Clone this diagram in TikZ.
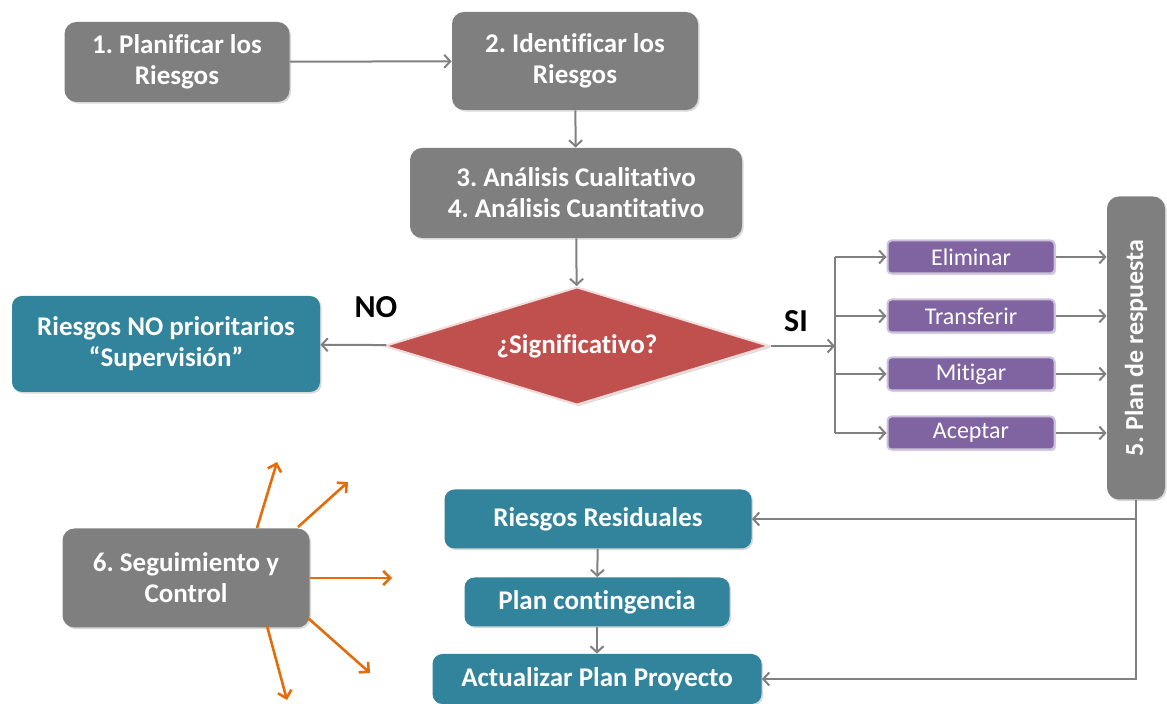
\documentclass[tikz,border=0pt]{standalone}
\usepackage{fontspec}
\setmainfont[Ligatures=NoCommon]{Carlito}
\usepackage{tikz}
\usetikzlibrary{arrows.meta,shapes.geometric,shadows}
\frenchspacing
\definecolor{boxgrey}{RGB}{127,127,127}
\definecolor{lineGrey}{RGB}{128,128,128}
\definecolor{tealbox}{RGB}{49,132,155}
\definecolor{redbox}{RGB}{192,80,77}
\definecolor{purplebox}{RGB}{128,100,162}
\definecolor{purpleedge}{RGB}{204,193,218}
\definecolor{orangearr}{RGB}{228,108,10}
\tikzset{
  base/.style={font=\bfseries\fontsize{13.5}{15.5}\selectfont, align=center, text=white, inner sep=2pt},
  shade/.style={drop shadow={shadow xshift=0.8pt, shadow yshift=-0.8pt, opacity=0.3}},
  greybox/.style={base, rectangle, rounded corners=6pt, fill=boxgrey, shade},
  tealnode/.style={base, rectangle, rounded corners=5pt, fill=tealbox, shade},
  option/.style={base, rectangle, rounded corners=2pt, fill=purplebox, draw=purpleedge, line width=1pt,
    font=\fontsize{12}{14}\selectfont, minimum width=83.5pt, minimum height=16.5pt, shade},
  dec/.style={base, diamond, aspect=3.3, inner sep=0pt, fill=redbox, draw=white!80!redbox, line width=1pt,
    minimum width=192.5pt, minimum height=59pt, shade},
  arr/.style={-{Straight Barb[length=3pt,width=6.5pt]}, line width=1pt, draw=lineGrey},
  line/.style={line width=1pt, draw=lineGrey},
  orarr/.style={-{Straight Barb[length=3.5pt,width=7pt]}, line width=1.3pt, draw=orangearr},
  lbl/.style={font=\bfseries\fontsize{16}{18}\selectfont, text=black},
}
\begin{document}
\begin{tikzpicture}[x=0.5pt,y=-0.5pt]
  \useasboundingbox (0,0) rectangle (1167,704);
  % main column
  \node[greybox, minimum width=112.5pt, minimum height=40pt] (plan1) at (177,62) {1. Planificar los\\Riesgos};
  \node[greybox, minimum width=123pt, minimum height=49pt] (ident) at (575,61) {2. Identificar los\\Riesgos};
  \node[greybox, minimum width=166pt, minimum height=45pt] (analisis) at (576,193) {3. Análisis Cualitativo\\4. Análisis Cuantitativo};
  \node[dec] (signif) at (577,346) {¿Significativo?};
  \node[tealnode, minimum width=154pt, minimum height=48pt] (noprio) at (166,344) {Riesgos NO prioritarios\\“Supervisión”};
  \node[lbl] (no) at (376,307) {NO};
  \node[lbl] (si) at (796,321) {SI};
  \draw[arr] (plan1) -- (ident);
  \draw[arr] (ident) -- (analisis);
  \draw[arr] (analisis) -- (signif);
  \draw[arr] (signif) -- (noprio);
  % response options
  \coordinate (split) at (835,346);
  \node[option] (eli) at (971,257) {Eliminar};
  \node[option] (trans) at (971,316) {Transferir};
  \node[option] (miti) at (971,374) {Mitigar};
  \node[option] (acep) at (971,433) {Aceptar};
  \node[greybox, rotate=90, minimum width=151.5pt, minimum height=29pt, font=\bfseries\fontsize{13}{15}\selectfont] (respuesta) at (1136,348) {5. Plan de respuesta};
  \draw[arr] (signif) -- (split);
  \draw[line] (split |- eli) -- (split |- acep);
  \foreach \o in {eli,trans,miti,acep}{
    \draw[arr] (split |- \o) -- (\o);
    \draw[arr] (\o) -- (\o -| respuesta.north);
  }
  % residual risks
  \node[tealnode, minimum width=153.5pt, minimum height=29.5pt] (resid) at (598,519) {Riesgos Residuales};
  \node[tealnode, minimum width=132.5pt, minimum height=24.5pt] (conting) at (597,602) {Plan contingencia};
  \node[tealnode, minimum width=164.5pt, minimum height=25pt] (actual) at (597,679) {Actualizar Plan Proyecto};
  \draw[arr] (resid) -- (conting);
  \draw[arr] (conting) -- (actual);
  \draw[arr] (respuesta.west) |- (actual);
  \draw[arr] (respuesta.west |- resid) -- (resid);
  % monitoring
  \node[greybox, minimum width=123.5pt, minimum height=49.5pt] (seguim) at (186,578) {6. Seguimiento y\\Control};
  \coordinate (s1) at (277,462);
  \coordinate (s2) at (348,482);
  \coordinate (s3) at (392,578);
  \coordinate (s4) at (370,673);
  \coordinate (s5) at (287,700);
  \draw[orarr] (257,528) -- (s1);
  \draw[orarr] (298,527) -- (s2);
  \draw[orarr] (seguim.east) -- (s3);
  \draw[orarr] (308,618) -- (s4);
  \draw[orarr] (267,626) -- (s5);
\end{tikzpicture}
\end{document}
